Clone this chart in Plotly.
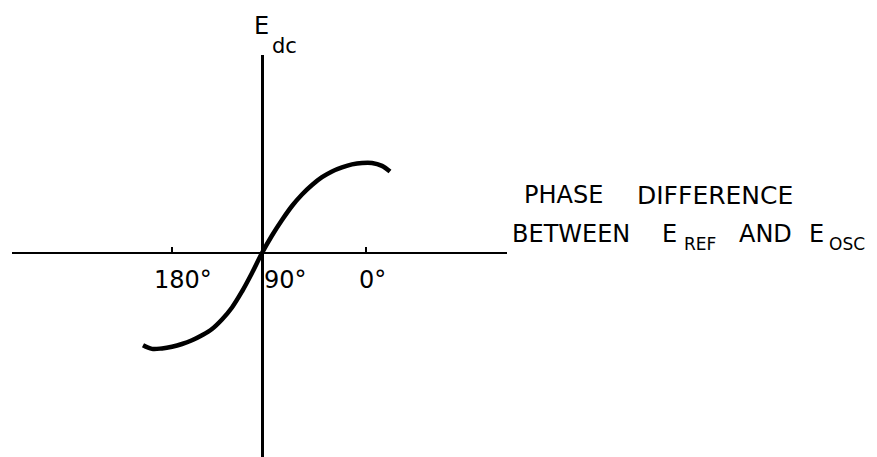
import plotly.graph_objects as go

# Curve (x: phase position, origin = 90°; y: E_dc)
curve_x = [-119, -110, -100, -90, -80, -70, -60, -50, -40, -30, -20, -10, 0,
           10, 20, 30, 40, 50, 60, 70, 80, 90, 100, 110, 120, 128]
curve_y = [-92.3, -95.9, -95.4, -93.7, -91, -87.2, -82.2, -76, -66.5, -54.5, -38.5, -20, 0,
           17.5, 33, 47, 58.5, 68, 75.8, 81.6, 85.6, 88.6, 90.1, 90.1, 87.1, 81.5]

tick_pos = [-90, 0, 104]
tick_text = ["180°", "90°", "0°"]

OFF = 8                      # page body margin
W, H = 877 - OFF, 457 - OFF  # figure size
# plot area edges in page pixels
PL, PR, PT, PB = 12, 507, 55, 457
OX, OY = 262, 253            # origin in page pixels
ML, MR, MT, MB = PL - OFF, W - (PR - OFF), PT - OFF, 0
PW, PH = PR - PL, PB - PT

def px(xp):
    return (xp - PL) / PW

def py(yp):
    return (PB - yp) / PH

FONT = "DejaVu Sans"

fig = go.Figure()
fig.add_trace(go.Scatter(x=curve_x, y=curve_y, mode="lines",
                         line=dict(color="black", width=4.5, shape="spline", smoothing=1.0),
                         hoverinfo="skip", showlegend=False))

shapes = []
for tp, tt in zip(tick_pos, tick_text):
    if tt != "90°":
        shapes.append(dict(type="line", xref="x", yref="y", x0=tp, x1=tp, y0=0, y1=6,
                           line=dict(color="black", width=2)))
fig.update_layout(shapes=shapes)

ann = []
def text(s, xl, yc, size):
    ann.append(dict(text=s, xref="paper", yref="paper", x=px(xl), y=py(yc),
                    xanchor="left", yanchor="middle", showarrow=False,
                    font=dict(family=FONT, size=size, color="black"), borderpad=0))

label_left = {"180°": 153, "90°": 263, "0°": 358}
for tt in tick_text:
    text(tt, label_left[tt], 280, 24)

text("E", 253, 26, 24)
text("dc", 271, 46, 21)

text("PHASE", 523, 195, 24)
text("DIFFERENCE", 636, 195, 25)
text("BETWEEN", 511, 234, 24)
text("E", 661, 234, 24)
text("REF", 683, 244, 17)
text("AND", 738, 234, 24)
text("E", 808, 234, 24)
text("OSC", 828, 244, 17)

fig.update_layout(
    annotations=ann,
    width=W, height=H,
    margin=dict(l=ML, r=MR, t=MT, b=MB),
    paper_bgcolor="white", plot_bgcolor="white",
    xaxis=dict(range=[PL - OX, PR - OX], showgrid=False, showticklabels=False, ticks="",
               zeroline=True, zerolinecolor="black", zerolinewidth=3, showline=False, fixedrange=True),
    yaxis=dict(range=[OY - PB, OY - PT], showgrid=False, showticklabels=False, ticks="",
               zeroline=True, zerolinecolor="black", zerolinewidth=2, showline=False, fixedrange=True),
    showlegend=False,
)

fig.write_html("out.html", config={"displayModeBar": False})
